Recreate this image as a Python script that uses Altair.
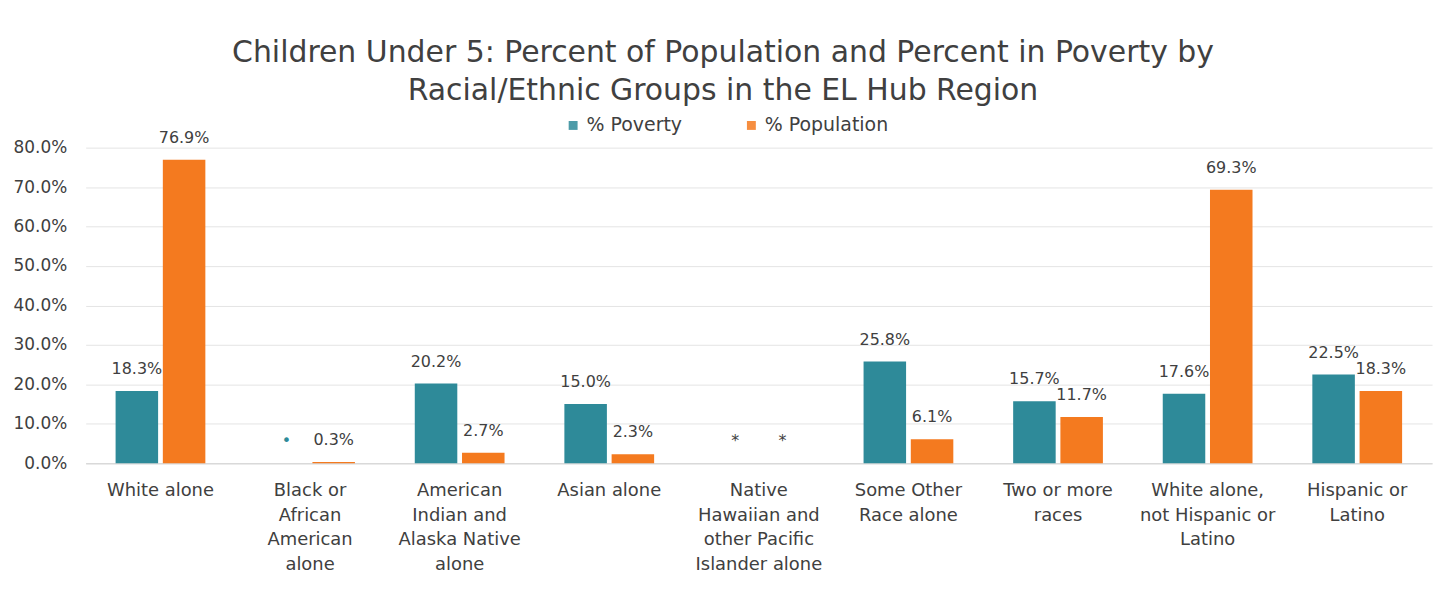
import altair as alt
import pandas as pd

categories = [
    "White alone",
    "Black or|African|American|alone",
    "American|Indian and|Alaska Native|alone",
    "Asian alone",
    "Native|Hawaiian and|other Pacific|Islander alone",
    "Some Other|Race alone",
    "Two or more|races",
    "White alone,|not Hispanic or|Latino",
    "Hispanic or|Latino",
]
poverty = [18.3, None, 20.2, 15.0, None, 25.8, 15.7, 17.6, 22.5]
population = [76.9, 0.3, 2.7, 2.3, None, 6.1, 11.7, 69.3, 18.3]
poverty_labels = ["18.3%", "•", "20.2%", "15.0%", "*", "25.8%", "15.7%", "17.6%", "22.5%"]
population_labels = ["76.9%", "0.3%", "2.7%", "2.3%", "*", "6.1%", "11.7%", "69.3%", "18.3%"]
y_ticks = [0, 10, 20, 30, 40, 50, 60, 70, 80]
series = ["% Poverty", "% Population"]
colors = ["#2E8A99", "#F47A1F"]

rows = []
for i, c in enumerate(categories):
    for s, vals, labs in ((series[0], poverty, poverty_labels), (series[1], population, population_labels)):
        v = vals[i]
        lab = labs[i]
        tcol = "#2E8A99" if lab == "•" else "#404040"
        rows.append({"cat": c, "series": s, "value": v, "pos": 0 if v is None else v,
                     "label": lab, "tcol": tcol})
df = pd.DataFrame(rows)

FONT = "DejaVu Sans"

x = alt.X("cat:N", sort=categories, title=None,
          scale=alt.Scale(paddingInner=0.4, paddingOuter=0.2),
          axis=alt.Axis(labelExpr="split(datum.label, '|')", labelAngle=0,
                        labelFontSize=18, labelColor="#404040", labelFont=FONT,
                        labelLineHeight=25, labelPadding=18, ticks=False,
                        domainColor="#D0D0D0", labelBaseline="top"))
xoff = alt.XOffset("series:N", sort=series, scale=alt.Scale(paddingInner=0.1))

yaxis = alt.Axis(values=y_ticks,
                 labelExpr="format(datum.value/100, '.1%')",
                 labelFontSize=17, labelColor="#404040", labelFont=FONT,
                 ticks=False, domain=False, gridColor="#E4E4E4",
                 minExtent=72, maxExtent=72, labelPadding=19)
yscale = alt.Scale(domain=[0, 80])

base = alt.Chart(df)

bars = base.mark_bar().encode(
    x=x, xOffset=xoff,
    y=alt.Y("value:Q", title=None, scale=yscale, axis=yaxis),
    color=alt.Color("series:N", sort=series,
                    scale=alt.Scale(domain=series, range=colors),
                    legend=alt.Legend(title=None, orient="none", direction="horizontal",
                                      legendX=480, legendY=-32, symbolType="square",
                                      symbolSize=80, labelFontSize=19, labelFont=FONT,
                                      labelColor="#404040", columnPadding=60,
                                      symbolOpacity=0.85)),
)

texts = base.mark_text(fontSize=16, font=FONT, dy=-22, baseline="middle").encode(
    x=x, xOffset=xoff,
    y=alt.Y("pos:Q", title=None, scale=yscale, axis=yaxis),
    text="label:N",
    color=alt.Color("tcol:N", scale=None, legend=None),
)

chart = alt.layer(bars, texts).properties(
    width=1352, height=317,
    padding={"left": 4, "top": 29, "right": 5, "bottom": 5},
    title=alt.TitleParams(
        ["Children Under 5: Percent of Population and Percent in Poverty by",
         "Racial/Ethnic Groups in the EL Hub Region"],
        fontSize=30, font=FONT, fontWeight="normal", color="#404040",
        anchor="middle", dx=-36, offset=10, lineHeight=38),
).configure_view(stroke=None).resolve_scale(color="independent")

chart.save("out.html", embed_options={"renderer": "svg", "actions": False})
